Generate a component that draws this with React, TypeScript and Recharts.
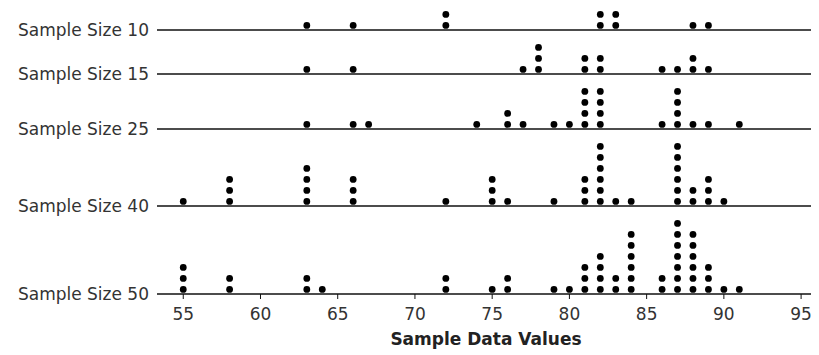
import React from "react";
import { ScatterChart, Scatter, XAxis, YAxis, ReferenceLine } from "recharts";

// raw sample values, one entry per dot
const sample10 = [63, 66, 72, 72, 82, 82, 83, 83, 88, 89];
const sample15 = [63, 66, 77, 78, 78, 78, 81, 81, 82, 82, 86, 87, 88, 88, 89];
const sample25 = [
  63, 66, 67, 74, 76, 76, 77, 79, 80, 81, 81, 81, 81, 82, 82, 82, 82, 86, 87,
  87, 87, 87, 88, 89, 91,
];
const sample40 = [
  55, 58, 58, 58, 63, 63, 63, 63, 66, 66, 66, 72, 75, 75, 75, 76, 79, 81, 81,
  81, 82, 82, 82, 82, 82, 82, 83, 84, 87, 87, 87, 87, 87, 87, 88, 88, 89, 89,
  89, 90,
];
const sample50 = [
  55, 55, 55, 58, 58, 63, 63, 64, 72, 72, 75, 76, 76, 79, 80, 81, 81, 81, 82,
  82, 82, 82, 83, 83, 84, 84, 84, 84, 84, 84, 86, 86, 87, 87, 87, 87, 87, 87,
  87, 88, 88, 88, 88, 88, 88, 89, 89, 89, 90, 91,
];

// bottom row first
const samples = [sample50, sample40, sample25, sample15, sample10];
const sampleLabels = [
  "Sample Size 50",
  "Sample Size 40",
  "Sample Size 25",
  "Sample Size 15",
  "Sample Size 10",
];
const xTicks = [55, 60, 65, 70, 75, 80, 85, 90, 95];

// stack repeated values; each row sits one level above the tallest stack below it
const baselines: number[] = [];
const points: { x: number; y: number }[] = [];
let base = 0;
samples.forEach((s) => {
  baselines.push(base);
  const seen: Record<number, number> = {};
  s.forEach((v) => {
    const k = seen[v] || 0;
    seen[v] = k + 1;
    points.push({ x: v, y: base + 0.42 + k });
  });
  base += Math.max(...Object.values(seen)) + 1;
});

const font = "'DejaVu Sans', Verdana, sans-serif";

const Dot = (props: any) => (
  <circle cx={props.cx} cy={props.cy} r={3.4} fill="#000" />
);

const App: React.FC = () => {
  return (
    <div style={{ width: 811, height: 347, fontFamily: font }}>
      <ScatterChart
        width={811}
        height={347}
        margin={{ top: 0, right: 4, left: 0, bottom: 0 }}>
        <XAxis
          dataKey="x"
          type="number"
          domain={[53.3, 95.9]}
          ticks={xTicks}
          allowDataOverflow
          height={61}
          tickSize={5}
          tickMargin={9}
          axisLine={{ stroke: "#111", strokeWidth: 1.5 }}
          tickLine={{ stroke: "#111" }}
          tick={{ fill: "#333", fontSize: 17, fontFamily: font }}
          label={{
            value: "Sample Data Values",
            position: "insideBottom",
            offset: 10,
            fill: "#222",
            fontSize: 17,
            fontWeight: "bold",
            fontFamily: font,
          }}
        />
        <YAxis
          dataKey="y"
          type="number"
          domain={[0, 26]}
          ticks={baselines}
          allowDataOverflow
          width={149}
          axisLine={false}
          tickLine={false}
          tick={{ fill: "#333", fontSize: 17, fontFamily: font }}
          tickFormatter={(v) => sampleLabels[baselines.indexOf(v)] || ""}
        />
        {baselines
          .filter((b) => b > 0)
          .map((b) => (
            <ReferenceLine key={b} y={b} stroke="#111" strokeWidth={1.5} />
          ))}
        <Scatter data={points} shape={Dot} isAnimationActive={false} />
      </ScatterChart>
    </div>
  );
};

export default App;
